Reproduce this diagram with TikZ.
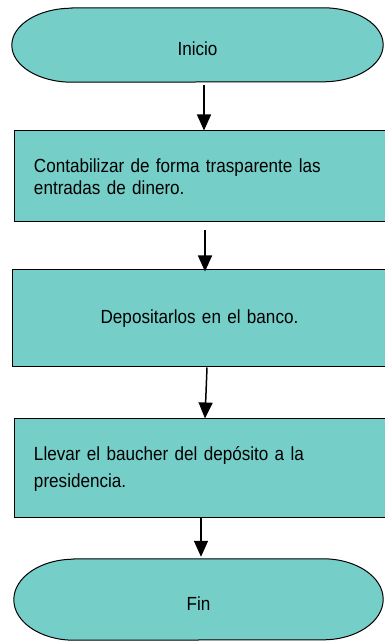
\documentclass[tikz,border=0pt]{standalone}
\usepackage{fontspec}
\setmainfont{Liberation Sans}[FakeStretch=0.9]
\usetikzlibrary{calc,backgrounds,arrows.meta}
\definecolor{flowteal}{RGB}{118,206,200}
\tikzset{
termnode/.style={minimum height=#1,inner sep=0pt,text height=22pt,text depth=0pt,font=\fontsize{19}{22}\selectfont},
termline/.style={draw=black,line width=1pt,fill=flowteal},
procbox/.style={draw=black,line width=1pt,fill=flowteal,minimum height=#1,text width=333pt,inner sep=0pt,font=\fontsize{19}{22}\selectfont},
flowarrow/.style={-{Triangle[length=16pt,width=14pt]},line width=1.5pt,black}
}
\newcommand\termoutline[2]{%
\draw[termline] ($(#1.north west)+(60,0)$) -- ($(#1.north east)+(-60,0)$)
  arc[start angle=90,end angle=-90,x radius=60,y radius=#2]
  -- ($(#1.south west)+(60,0)$)
  arc[start angle=270,end angle=90,x radius=60,y radius=#2] -- cycle;}

\begin{document}
\begin{tikzpicture}[x=1pt,y=1pt]
\useasboundingbox (0,0) rectangle (385,641);
\node[termnode=74pt,minimum width=371pt] (inicio) at (197.5,596) {Inicio};
\node[procbox=91pt,minimum width=373pt,align=left] (contab) at (200.5,464.5) {Contabilizar de forma trasparente las\\entradas de dinero.};
\node[procbox=97pt,minimum width=375pt,align=center] (deposito) at (199.5,322.5) {Depositarlos en el banco.};
\node[procbox=99pt,minimum width=373pt,align=left] (baucher) at (200.5,172.5) {Llevar el baucher del depósito a la\\[5pt]presidencia.};
\node[termnode=81pt,minimum width=369pt] (fin) at (198.5,41.5) {Fin};
\begin{scope}[on background layer]
\termoutline{inicio}{37}
\termoutline{fin}{40.5}
\end{scope}
\draw[flowarrow,shorten <=3pt] ([xshift=6.5pt]inicio.south) -- ([xshift=3.5pt]contab.north);
\draw[flowarrow,shorten <=8pt,shorten >=-2pt] ([xshift=4.5pt]contab.south) -- ([xshift=5.5pt]deposito.north);
\draw[flowarrow] ([xshift=7.5pt]deposito.south) -- ([xshift=4.5pt]baucher.north);
\draw[flowarrow,shorten >=2pt] ([xshift=0.5pt]baucher.south) -- ([xshift=2.5pt]fin.north);
\end{tikzpicture}
\end{document}
